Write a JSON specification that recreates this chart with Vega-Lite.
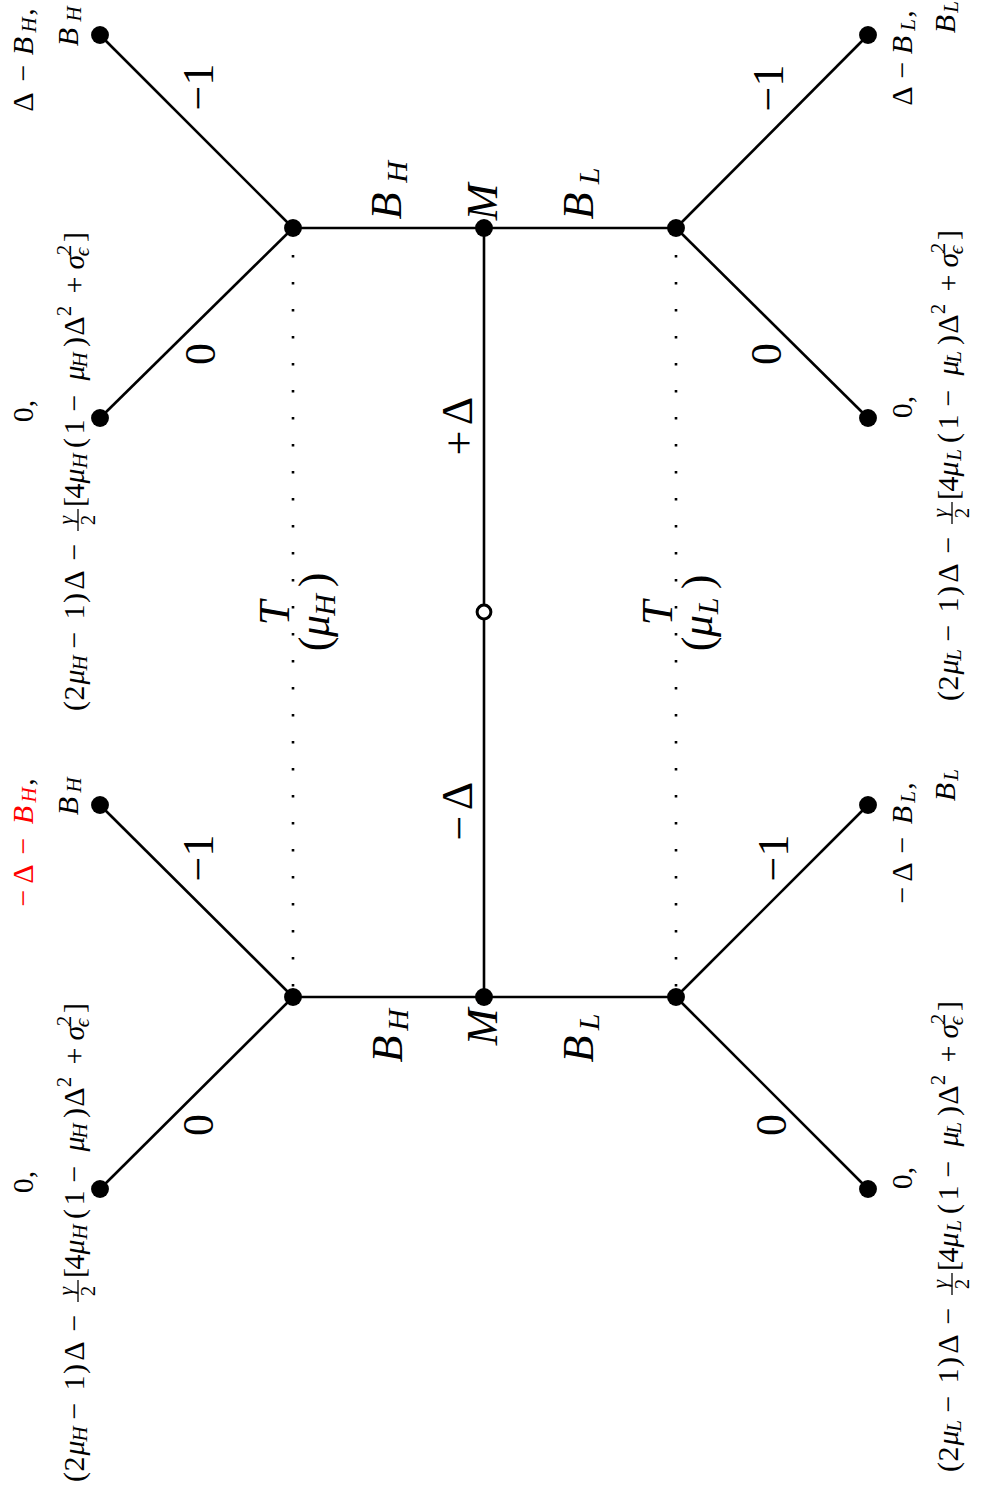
{
  "$schema": "https://vega.github.io/schema/vega-lite/v6.json",
  "width": 983,
  "height": 1492,
  "autosize": {"type": "fit", "contains": "padding"},
  "padding": 0,
  "background": "white",
  "config": {"view": {"stroke": null}},
  "datasets": {
    "edges": [
      {"x": 293, "y": 228, "x2": 100, "y2": 35, "kind": "branch"},
      {"x": 293, "y": 228, "x2": 100, "y2": 418, "kind": "branch"},
      {"x": 293, "y": 228, "x2": 676, "y2": 228, "kind": "branch"},
      {"x": 484, "y": 228, "x2": 484, "y2": 997, "kind": "branch"},
      {"x": 293, "y": 997, "x2": 676, "y2": 997, "kind": "branch"},
      {"x": 293, "y": 997, "x2": 100, "y2": 805, "kind": "branch"},
      {"x": 293, "y": 997, "x2": 100, "y2": 1189, "kind": "branch"},
      {"x": 676, "y": 228, "x2": 868, "y2": 35, "kind": "branch"},
      {"x": 676, "y": 228, "x2": 868, "y2": 418, "kind": "branch"},
      {"x": 676, "y": 997, "x2": 868, "y2": 805, "kind": "branch"},
      {"x": 676, "y": 997, "x2": 868, "y2": 1189, "kind": "branch"},
      {"x": 293, "y": 228, "x2": 293, "y2": 997, "kind": "info"},
      {"x": 676, "y": 228, "x2": 676, "y2": 997, "kind": "info"},
      {"x": 78, "y": 509, "x2": 78, "y2": 531, "kind": "frac"},
      {"x": 952, "y": 502, "x2": 952, "y2": 524, "kind": "frac"},
      {"x": 78, "y": 1280, "x2": 78, "y2": 1302, "kind": "frac"},
      {"x": 952, "y": 1273, "x2": 952, "y2": 1295, "kind": "frac"}
    ],
    "nodes": [
      {"x": 293, "y": 228, "kind": "decision"},
      {"x": 484, "y": 228, "kind": "decision"},
      {"x": 676, "y": 228, "kind": "decision"},
      {"x": 293, "y": 997, "kind": "decision"},
      {"x": 484, "y": 997, "kind": "decision"},
      {"x": 676, "y": 997, "kind": "decision"},
      {"x": 100, "y": 35, "kind": "terminal"},
      {"x": 100, "y": 418, "kind": "terminal"},
      {"x": 868, "y": 35, "kind": "terminal"},
      {"x": 868, "y": 418, "kind": "terminal"},
      {"x": 100, "y": 805, "kind": "terminal"},
      {"x": 100, "y": 1189, "kind": "terminal"},
      {"x": 868, "y": 805, "kind": "terminal"},
      {"x": 868, "y": 1189, "kind": "terminal"},
      {"x": 484, "y": 612, "kind": "chance"}
    ],
    "labels": [
      {"label": "(", "x": 75, "y": 706, "role": "pay", "hl": "n"},
      {"label": "2", "x": 75, "y": 693, "role": "pay", "hl": "n"},
      {"label": "μ", "x": 75, "y": 677, "role": "payvar", "hl": "n"},
      {"label": "H", "x": 81, "y": 663, "role": "paysub", "hl": "n"},
      {"label": "−", "x": 75, "y": 640, "role": "pay", "hl": "n"},
      {"label": "1", "x": 75, "y": 612, "role": "pay", "hl": "n"},
      {"label": ")", "x": 75, "y": 598, "role": "pay", "hl": "n"},
      {"label": "Δ", "x": 75, "y": 580, "role": "pay", "hl": "n"},
      {"label": "−", "x": 75, "y": 552, "role": "pay", "hl": "n"},
      {"label": "γ", "x": 67, "y": 520, "role": "paysub", "hl": "n"},
      {"label": "2", "x": 89, "y": 520, "role": "paysup", "hl": "n"},
      {"label": "[", "x": 75, "y": 502, "role": "pay", "hl": "n"},
      {"label": "4", "x": 75, "y": 491, "role": "pay", "hl": "n"},
      {"label": "μ", "x": 75, "y": 476, "role": "payvar", "hl": "n"},
      {"label": "H", "x": 81, "y": 461, "role": "paysub", "hl": "n"},
      {"label": "(", "x": 75, "y": 443, "role": "pay", "hl": "n"},
      {"label": "1", "x": 75, "y": 427, "role": "pay", "hl": "n"},
      {"label": "−", "x": 75, "y": 403, "role": "pay", "hl": "n"},
      {"label": "μ", "x": 75, "y": 373, "role": "payvar", "hl": "n"},
      {"label": "H", "x": 81, "y": 360, "role": "paysub", "hl": "n"},
      {"label": ")", "x": 75, "y": 342, "role": "pay", "hl": "n"},
      {"label": "Δ", "x": 75, "y": 326, "role": "pay", "hl": "n"},
      {"label": "2", "x": 65, "y": 311, "role": "paysup", "hl": "n"},
      {"label": "+", "x": 75, "y": 285, "role": "pay", "hl": "n"},
      {"label": "σ", "x": 75, "y": 262, "role": "payvar", "hl": "n"},
      {"label": "2", "x": 65, "y": 250, "role": "paysup", "hl": "n"},
      {"label": "ϵ", "x": 83, "y": 252, "role": "paysub", "hl": "n"},
      {"label": "]", "x": 75, "y": 237, "role": "pay", "hl": "n"},

      {"label": "(", "x": 949, "y": 696, "role": "pay", "hl": "n"},
      {"label": "2", "x": 949, "y": 683, "role": "pay", "hl": "n"},
      {"label": "μ", "x": 949, "y": 667, "role": "payvar", "hl": "n"},
      {"label": "L", "x": 955, "y": 655, "role": "paysub", "hl": "n"},
      {"label": "−", "x": 949, "y": 633, "role": "pay", "hl": "n"},
      {"label": "1", "x": 949, "y": 605, "role": "pay", "hl": "n"},
      {"label": ")", "x": 949, "y": 591, "role": "pay", "hl": "n"},
      {"label": "Δ", "x": 949, "y": 573, "role": "pay", "hl": "n"},
      {"label": "−", "x": 949, "y": 545, "role": "pay", "hl": "n"},
      {"label": "γ", "x": 941, "y": 513, "role": "paysub", "hl": "n"},
      {"label": "2", "x": 963, "y": 513, "role": "paysup", "hl": "n"},
      {"label": "[", "x": 949, "y": 495, "role": "pay", "hl": "n"},
      {"label": "4", "x": 949, "y": 484, "role": "pay", "hl": "n"},
      {"label": "μ", "x": 949, "y": 469, "role": "payvar", "hl": "n"},
      {"label": "L", "x": 955, "y": 455, "role": "paysub", "hl": "n"},
      {"label": "(", "x": 949, "y": 438, "role": "pay", "hl": "n"},
      {"label": "1", "x": 949, "y": 422, "role": "pay", "hl": "n"},
      {"label": "−", "x": 949, "y": 398, "role": "pay", "hl": "n"},
      {"label": "μ", "x": 949, "y": 368, "role": "payvar", "hl": "n"},
      {"label": "L", "x": 955, "y": 357, "role": "paysub", "hl": "n"},
      {"label": ")", "x": 949, "y": 340, "role": "pay", "hl": "n"},
      {"label": "Δ", "x": 949, "y": 324, "role": "pay", "hl": "n"},
      {"label": "2", "x": 939, "y": 309, "role": "paysup", "hl": "n"},
      {"label": "+", "x": 949, "y": 283, "role": "pay", "hl": "n"},
      {"label": "σ", "x": 949, "y": 260, "role": "payvar", "hl": "n"},
      {"label": "2", "x": 939, "y": 248, "role": "paysup", "hl": "n"},
      {"label": "ϵ", "x": 957, "y": 250, "role": "paysub", "hl": "n"},
      {"label": "]", "x": 949, "y": 235, "role": "pay", "hl": "n"},

      {"label": "(", "x": 75, "y": 1477, "role": "pay", "hl": "n"},
      {"label": "2", "x": 75, "y": 1464, "role": "pay", "hl": "n"},
      {"label": "μ", "x": 75, "y": 1448, "role": "payvar", "hl": "n"},
      {"label": "H", "x": 81, "y": 1434, "role": "paysub", "hl": "n"},
      {"label": "−", "x": 75, "y": 1411, "role": "pay", "hl": "n"},
      {"label": "1", "x": 75, "y": 1383, "role": "pay", "hl": "n"},
      {"label": ")", "x": 75, "y": 1369, "role": "pay", "hl": "n"},
      {"label": "Δ", "x": 75, "y": 1351, "role": "pay", "hl": "n"},
      {"label": "−", "x": 75, "y": 1323, "role": "pay", "hl": "n"},
      {"label": "γ", "x": 67, "y": 1291, "role": "paysub", "hl": "n"},
      {"label": "2", "x": 89, "y": 1291, "role": "paysup", "hl": "n"},
      {"label": "[", "x": 75, "y": 1273, "role": "pay", "hl": "n"},
      {"label": "4", "x": 75, "y": 1262, "role": "pay", "hl": "n"},
      {"label": "μ", "x": 75, "y": 1247, "role": "payvar", "hl": "n"},
      {"label": "H", "x": 81, "y": 1232, "role": "paysub", "hl": "n"},
      {"label": "(", "x": 75, "y": 1214, "role": "pay", "hl": "n"},
      {"label": "1", "x": 75, "y": 1198, "role": "pay", "hl": "n"},
      {"label": "−", "x": 75, "y": 1174, "role": "pay", "hl": "n"},
      {"label": "μ", "x": 75, "y": 1144, "role": "payvar", "hl": "n"},
      {"label": "H", "x": 81, "y": 1131, "role": "paysub", "hl": "n"},
      {"label": ")", "x": 75, "y": 1113, "role": "pay", "hl": "n"},
      {"label": "Δ", "x": 75, "y": 1097, "role": "pay", "hl": "n"},
      {"label": "2", "x": 65, "y": 1082, "role": "paysup", "hl": "n"},
      {"label": "+", "x": 75, "y": 1056, "role": "pay", "hl": "n"},
      {"label": "σ", "x": 75, "y": 1033, "role": "payvar", "hl": "n"},
      {"label": "2", "x": 65, "y": 1021, "role": "paysup", "hl": "n"},
      {"label": "ϵ", "x": 83, "y": 1023, "role": "paysub", "hl": "n"},
      {"label": "]", "x": 75, "y": 1008, "role": "pay", "hl": "n"},

      {"label": "(", "x": 949, "y": 1467, "role": "pay", "hl": "n"},
      {"label": "2", "x": 949, "y": 1454, "role": "pay", "hl": "n"},
      {"label": "μ", "x": 949, "y": 1438, "role": "payvar", "hl": "n"},
      {"label": "L", "x": 955, "y": 1426, "role": "paysub", "hl": "n"},
      {"label": "−", "x": 949, "y": 1404, "role": "pay", "hl": "n"},
      {"label": "1", "x": 949, "y": 1376, "role": "pay", "hl": "n"},
      {"label": ")", "x": 949, "y": 1362, "role": "pay", "hl": "n"},
      {"label": "Δ", "x": 949, "y": 1344, "role": "pay", "hl": "n"},
      {"label": "−", "x": 949, "y": 1316, "role": "pay", "hl": "n"},
      {"label": "γ", "x": 941, "y": 1284, "role": "paysub", "hl": "n"},
      {"label": "2", "x": 963, "y": 1284, "role": "paysup", "hl": "n"},
      {"label": "[", "x": 949, "y": 1266, "role": "pay", "hl": "n"},
      {"label": "4", "x": 949, "y": 1255, "role": "pay", "hl": "n"},
      {"label": "μ", "x": 949, "y": 1240, "role": "payvar", "hl": "n"},
      {"label": "L", "x": 955, "y": 1226, "role": "paysub", "hl": "n"},
      {"label": "(", "x": 949, "y": 1209, "role": "pay", "hl": "n"},
      {"label": "1", "x": 949, "y": 1193, "role": "pay", "hl": "n"},
      {"label": "−", "x": 949, "y": 1169, "role": "pay", "hl": "n"},
      {"label": "μ", "x": 949, "y": 1139, "role": "payvar", "hl": "n"},
      {"label": "L", "x": 955, "y": 1128, "role": "paysub", "hl": "n"},
      {"label": ")", "x": 949, "y": 1111, "role": "pay", "hl": "n"},
      {"label": "Δ", "x": 949, "y": 1095, "role": "pay", "hl": "n"},
      {"label": "2", "x": 939, "y": 1080, "role": "paysup", "hl": "n"},
      {"label": "+", "x": 949, "y": 1054, "role": "pay", "hl": "n"},
      {"label": "σ", "x": 949, "y": 1031, "role": "payvar", "hl": "n"},
      {"label": "2", "x": 939, "y": 1019, "role": "paysup", "hl": "n"},
      {"label": "ϵ", "x": 957, "y": 1021, "role": "paysub", "hl": "n"},
      {"label": "]", "x": 949, "y": 1006, "role": "pay", "hl": "n"},

      {"label": "Δ", "x": 24, "y": 102, "role": "pay", "hl": "n"},
      {"label": "−", "x": 24, "y": 73, "role": "pay", "hl": "n"},
      {"label": "B", "x": 24, "y": 46, "role": "payvar", "hl": "n"},
      {"label": "H", "x": 30, "y": 25, "role": "paysub", "hl": "n"},
      {"label": ",", "x": 24, "y": 12, "role": "pay", "hl": "n"},
      {"label": "B", "x": 69, "y": 37, "role": "payvar", "hl": "n"},
      {"label": "H", "x": 75, "y": 14, "role": "paysub", "hl": "n"},
      {"label": "0,", "x": 24, "y": 411, "role": "pay", "hl": "n"},

      {"label": "−", "x": 24, "y": 898, "role": "pay", "hl": "y"},
      {"label": "Δ", "x": 24, "y": 874, "role": "pay", "hl": "y"},
      {"label": "−", "x": 24, "y": 846, "role": "pay", "hl": "y"},
      {"label": "B", "x": 24, "y": 815, "role": "payvar", "hl": "y"},
      {"label": "H", "x": 30, "y": 795, "role": "paysub", "hl": "y"},
      {"label": ",", "x": 24, "y": 782, "role": "pay", "hl": "n"},
      {"label": "B", "x": 69, "y": 806, "role": "payvar", "hl": "n"},
      {"label": "H", "x": 75, "y": 785, "role": "paysub", "hl": "n"},
      {"label": "0,", "x": 24, "y": 1182, "role": "pay", "hl": "n"},

      {"label": "Δ", "x": 903, "y": 96, "role": "pay", "hl": "n"},
      {"label": "−", "x": 903, "y": 70, "role": "pay", "hl": "n"},
      {"label": "B", "x": 903, "y": 45, "role": "payvar", "hl": "n"},
      {"label": "L", "x": 909, "y": 25, "role": "paysub", "hl": "n"},
      {"label": ",", "x": 903, "y": 14, "role": "pay", "hl": "n"},
      {"label": "B", "x": 946, "y": 24, "role": "payvar", "hl": "n"},
      {"label": "L", "x": 952, "y": 7, "role": "paysub", "hl": "n"},
      {"label": "0,", "x": 903, "y": 407, "role": "pay", "hl": "n"},

      {"label": "−", "x": 903, "y": 895, "role": "pay", "hl": "n"},
      {"label": "Δ", "x": 903, "y": 872, "role": "pay", "hl": "n"},
      {"label": "−", "x": 903, "y": 845, "role": "pay", "hl": "n"},
      {"label": "B", "x": 903, "y": 815, "role": "payvar", "hl": "n"},
      {"label": "L", "x": 909, "y": 797, "role": "paysub", "hl": "n"},
      {"label": ",", "x": 903, "y": 786, "role": "pay", "hl": "n"},
      {"label": "B", "x": 946, "y": 792, "role": "payvar", "hl": "n"},
      {"label": "L", "x": 952, "y": 775, "role": "paysub", "hl": "n"},
      {"label": "0,", "x": 903, "y": 1178, "role": "pay", "hl": "n"},

      {"label": "−1", "x": 200, "y": 87, "role": "big", "hl": "n"},
      {"label": "0", "x": 202, "y": 354, "role": "big", "hl": "n"},
      {"label": "−1", "x": 200, "y": 858, "role": "big", "hl": "n"},
      {"label": "0", "x": 200, "y": 1125, "role": "big", "hl": "n"},
      {"label": "−1", "x": 770, "y": 88, "role": "big", "hl": "n"},
      {"label": "0", "x": 768, "y": 354, "role": "big", "hl": "n"},
      {"label": "−1", "x": 775, "y": 858, "role": "big", "hl": "n"},
      {"label": "0", "x": 773, "y": 1125, "role": "big", "hl": "n"},

      {"label": "B", "x": 388, "y": 206, "role": "bigvar", "hl": "n"},
      {"label": "H", "x": 398, "y": 172, "role": "bigsub", "hl": "n"},
      {"label": "M", "x": 484, "y": 202, "role": "bigvar", "hl": "n"},
      {"label": "B", "x": 580, "y": 206, "role": "bigvar", "hl": "n"},
      {"label": "L", "x": 590, "y": 176, "role": "bigsub", "hl": "n"},
      {"label": "B", "x": 389, "y": 1049, "role": "bigvar", "hl": "n"},
      {"label": "H", "x": 399, "y": 1020, "role": "bigsub", "hl": "n"},
      {"label": "M", "x": 484, "y": 1027, "role": "bigvar", "hl": "n"},
      {"label": "B", "x": 580, "y": 1049, "role": "bigvar", "hl": "n"},
      {"label": "L", "x": 590, "y": 1022, "role": "bigsub", "hl": "n"},

      {"label": "+", "x": 461, "y": 443, "role": "big", "hl": "n"},
      {"label": "Δ", "x": 459, "y": 411, "role": "big", "hl": "n"},
      {"label": "−", "x": 461, "y": 828, "role": "big", "hl": "n"},
      {"label": "Δ", "x": 459, "y": 796, "role": "big", "hl": "n"},

      {"label": "T", "x": 276, "y": 613, "role": "bigvar", "hl": "n"},
      {"label": "(", "x": 316, "y": 644, "role": "big", "hl": "n"},
      {"label": "μ", "x": 316, "y": 626, "role": "bigvar", "hl": "n"},
      {"label": "H", "x": 326, "y": 605, "role": "bigsub", "hl": "n"},
      {"label": ")", "x": 316, "y": 580, "role": "big", "hl": "n"},
      {"label": "T", "x": 659, "y": 613, "role": "bigvar", "hl": "n"},
      {"label": "(", "x": 699, "y": 644, "role": "big", "hl": "n"},
      {"label": "μ", "x": 699, "y": 626, "role": "bigvar", "hl": "n"},
      {"label": "L", "x": 709, "y": 606, "role": "bigsub", "hl": "n"},
      {"label": ")", "x": 699, "y": 582, "role": "big", "hl": "n"}
    ]
  },
  "layer": [
    {
      "data": {"name": "edges"},
      "transform": [{"filter": "datum.kind === 'branch'"}],
      "mark": {"type": "rule", "strokeWidth": 2.6, "color": "black"},
      "encoding": {
        "x": {"field": "x", "type": "quantitative", "scale": {"domain": [0, 983], "nice": false, "zero": false}, "axis": null},
        "y": {"field": "y", "type": "quantitative", "scale": {"domain": [0, 1492], "nice": false, "zero": false, "reverse": true}, "axis": null},
        "x2": {"field": "x2"},
        "y2": {"field": "y2"}
      }
    },
    {
      "data": {"name": "edges"},
      "transform": [{"filter": "datum.kind === 'info'"}],
      "mark": {"type": "rule", "strokeWidth": 2.6, "color": "black", "strokeDash": [2.6, 24.4]},
      "encoding": {
        "x": {"field": "x", "type": "quantitative", "axis": null},
        "y": {"field": "y", "type": "quantitative", "axis": null},
        "x2": {"field": "x2"},
        "y2": {"field": "y2"}
      }
    },
    {
      "data": {"name": "edges"},
      "transform": [{"filter": "datum.kind === 'frac'"}],
      "mark": {"type": "rule", "strokeWidth": 1.3, "color": "black"},
      "encoding": {
        "x": {"field": "x", "type": "quantitative", "axis": null},
        "y": {"field": "y", "type": "quantitative", "axis": null},
        "x2": {"field": "x2"},
        "y2": {"field": "y2"}
      }
    },
    {
      "data": {"name": "nodes"},
      "transform": [{"filter": "datum.kind !== 'chance'"}],
      "mark": {"type": "point", "shape": "circle", "filled": true, "size": 320, "color": "black", "opacity": 1},
      "encoding": {
        "x": {"field": "x", "type": "quantitative", "axis": null},
        "y": {"field": "y", "type": "quantitative", "axis": null}
      }
    },
    {
      "data": {"name": "nodes"},
      "transform": [{"filter": "datum.kind === 'chance'"}],
      "mark": {"type": "point", "shape": "circle", "filled": false, "fill": "white", "fillOpacity": 1, "stroke": "black", "strokeWidth": 3, "size": 190, "opacity": 1},
      "encoding": {
        "x": {"field": "x", "type": "quantitative", "axis": null},
        "y": {"field": "y", "type": "quantitative", "axis": null}
      }
    },
    {
      "data": {"name": "labels"},
      "transform": [{"filter": "datum.role === 'pay'"}],
      "mark": {"type": "text", "angle": 270, "align": "center", "baseline": "middle", "font": "Liberation Serif", "fontSize": 30},
      "encoding": {
        "x": {"field": "x", "type": "quantitative", "axis": null},
        "y": {"field": "y", "type": "quantitative", "axis": null},
        "text": {"field": "label"},
        "color": {"field": "hl", "type": "nominal", "scale": {"domain": ["n", "y"], "range": ["#000000", "#ff0000"]}, "legend": null}
      }
    },
    {
      "data": {"name": "labels"},
      "transform": [{"filter": "datum.role === 'payvar'"}],
      "mark": {"type": "text", "angle": 270, "align": "center", "baseline": "middle", "font": "Liberation Serif", "fontStyle": "italic", "fontSize": 30},
      "encoding": {
        "x": {"field": "x", "type": "quantitative", "axis": null},
        "y": {"field": "y", "type": "quantitative", "axis": null},
        "text": {"field": "label"},
        "color": {"field": "hl", "type": "nominal", "scale": {"domain": ["n", "y"], "range": ["#000000", "#ff0000"]}, "legend": null}
      }
    },
    {
      "data": {"name": "labels"},
      "transform": [{"filter": "datum.role === 'paysub'"}],
      "mark": {"type": "text", "angle": 270, "align": "center", "baseline": "middle", "font": "Liberation Serif", "fontStyle": "italic", "fontSize": 21},
      "encoding": {
        "x": {"field": "x", "type": "quantitative", "axis": null},
        "y": {"field": "y", "type": "quantitative", "axis": null},
        "text": {"field": "label"},
        "color": {"field": "hl", "type": "nominal", "scale": {"domain": ["n", "y"], "range": ["#000000", "#ff0000"]}, "legend": null}
      }
    },
    {
      "data": {"name": "labels"},
      "transform": [{"filter": "datum.role === 'paysup'"}],
      "mark": {"type": "text", "angle": 270, "align": "center", "baseline": "middle", "font": "Liberation Serif", "fontSize": 21},
      "encoding": {
        "x": {"field": "x", "type": "quantitative", "axis": null},
        "y": {"field": "y", "type": "quantitative", "axis": null},
        "text": {"field": "label"},
        "color": {"field": "hl", "type": "nominal", "scale": {"domain": ["n", "y"], "range": ["#000000", "#ff0000"]}, "legend": null}
      }
    },
    {
      "data": {"name": "labels"},
      "transform": [{"filter": "datum.role === 'big'"}],
      "mark": {"type": "text", "angle": 270, "align": "center", "baseline": "middle", "font": "Liberation Serif", "fontSize": 44},
      "encoding": {
        "x": {"field": "x", "type": "quantitative", "axis": null},
        "y": {"field": "y", "type": "quantitative", "axis": null},
        "text": {"field": "label"},
        "color": {"field": "hl", "type": "nominal", "scale": {"domain": ["n", "y"], "range": ["#000000", "#ff0000"]}, "legend": null}
      }
    },
    {
      "data": {"name": "labels"},
      "transform": [{"filter": "datum.role === 'bigvar'"}],
      "mark": {"type": "text", "angle": 270, "align": "center", "baseline": "middle", "font": "Liberation Serif", "fontStyle": "italic", "fontSize": 44},
      "encoding": {
        "x": {"field": "x", "type": "quantitative", "axis": null},
        "y": {"field": "y", "type": "quantitative", "axis": null},
        "text": {"field": "label"},
        "color": {"field": "hl", "type": "nominal", "scale": {"domain": ["n", "y"], "range": ["#000000", "#ff0000"]}, "legend": null}
      }
    },
    {
      "data": {"name": "labels"},
      "transform": [{"filter": "datum.role === 'bigsub'"}],
      "mark": {"type": "text", "angle": 270, "align": "center", "baseline": "middle", "font": "Liberation Serif", "fontStyle": "italic", "fontSize": 30},
      "encoding": {
        "x": {"field": "x", "type": "quantitative", "axis": null},
        "y": {"field": "y", "type": "quantitative", "axis": null},
        "text": {"field": "label"},
        "color": {"field": "hl", "type": "nominal", "scale": {"domain": ["n", "y"], "range": ["#000000", "#ff0000"]}, "legend": null}
      }
    }
  ]
}
